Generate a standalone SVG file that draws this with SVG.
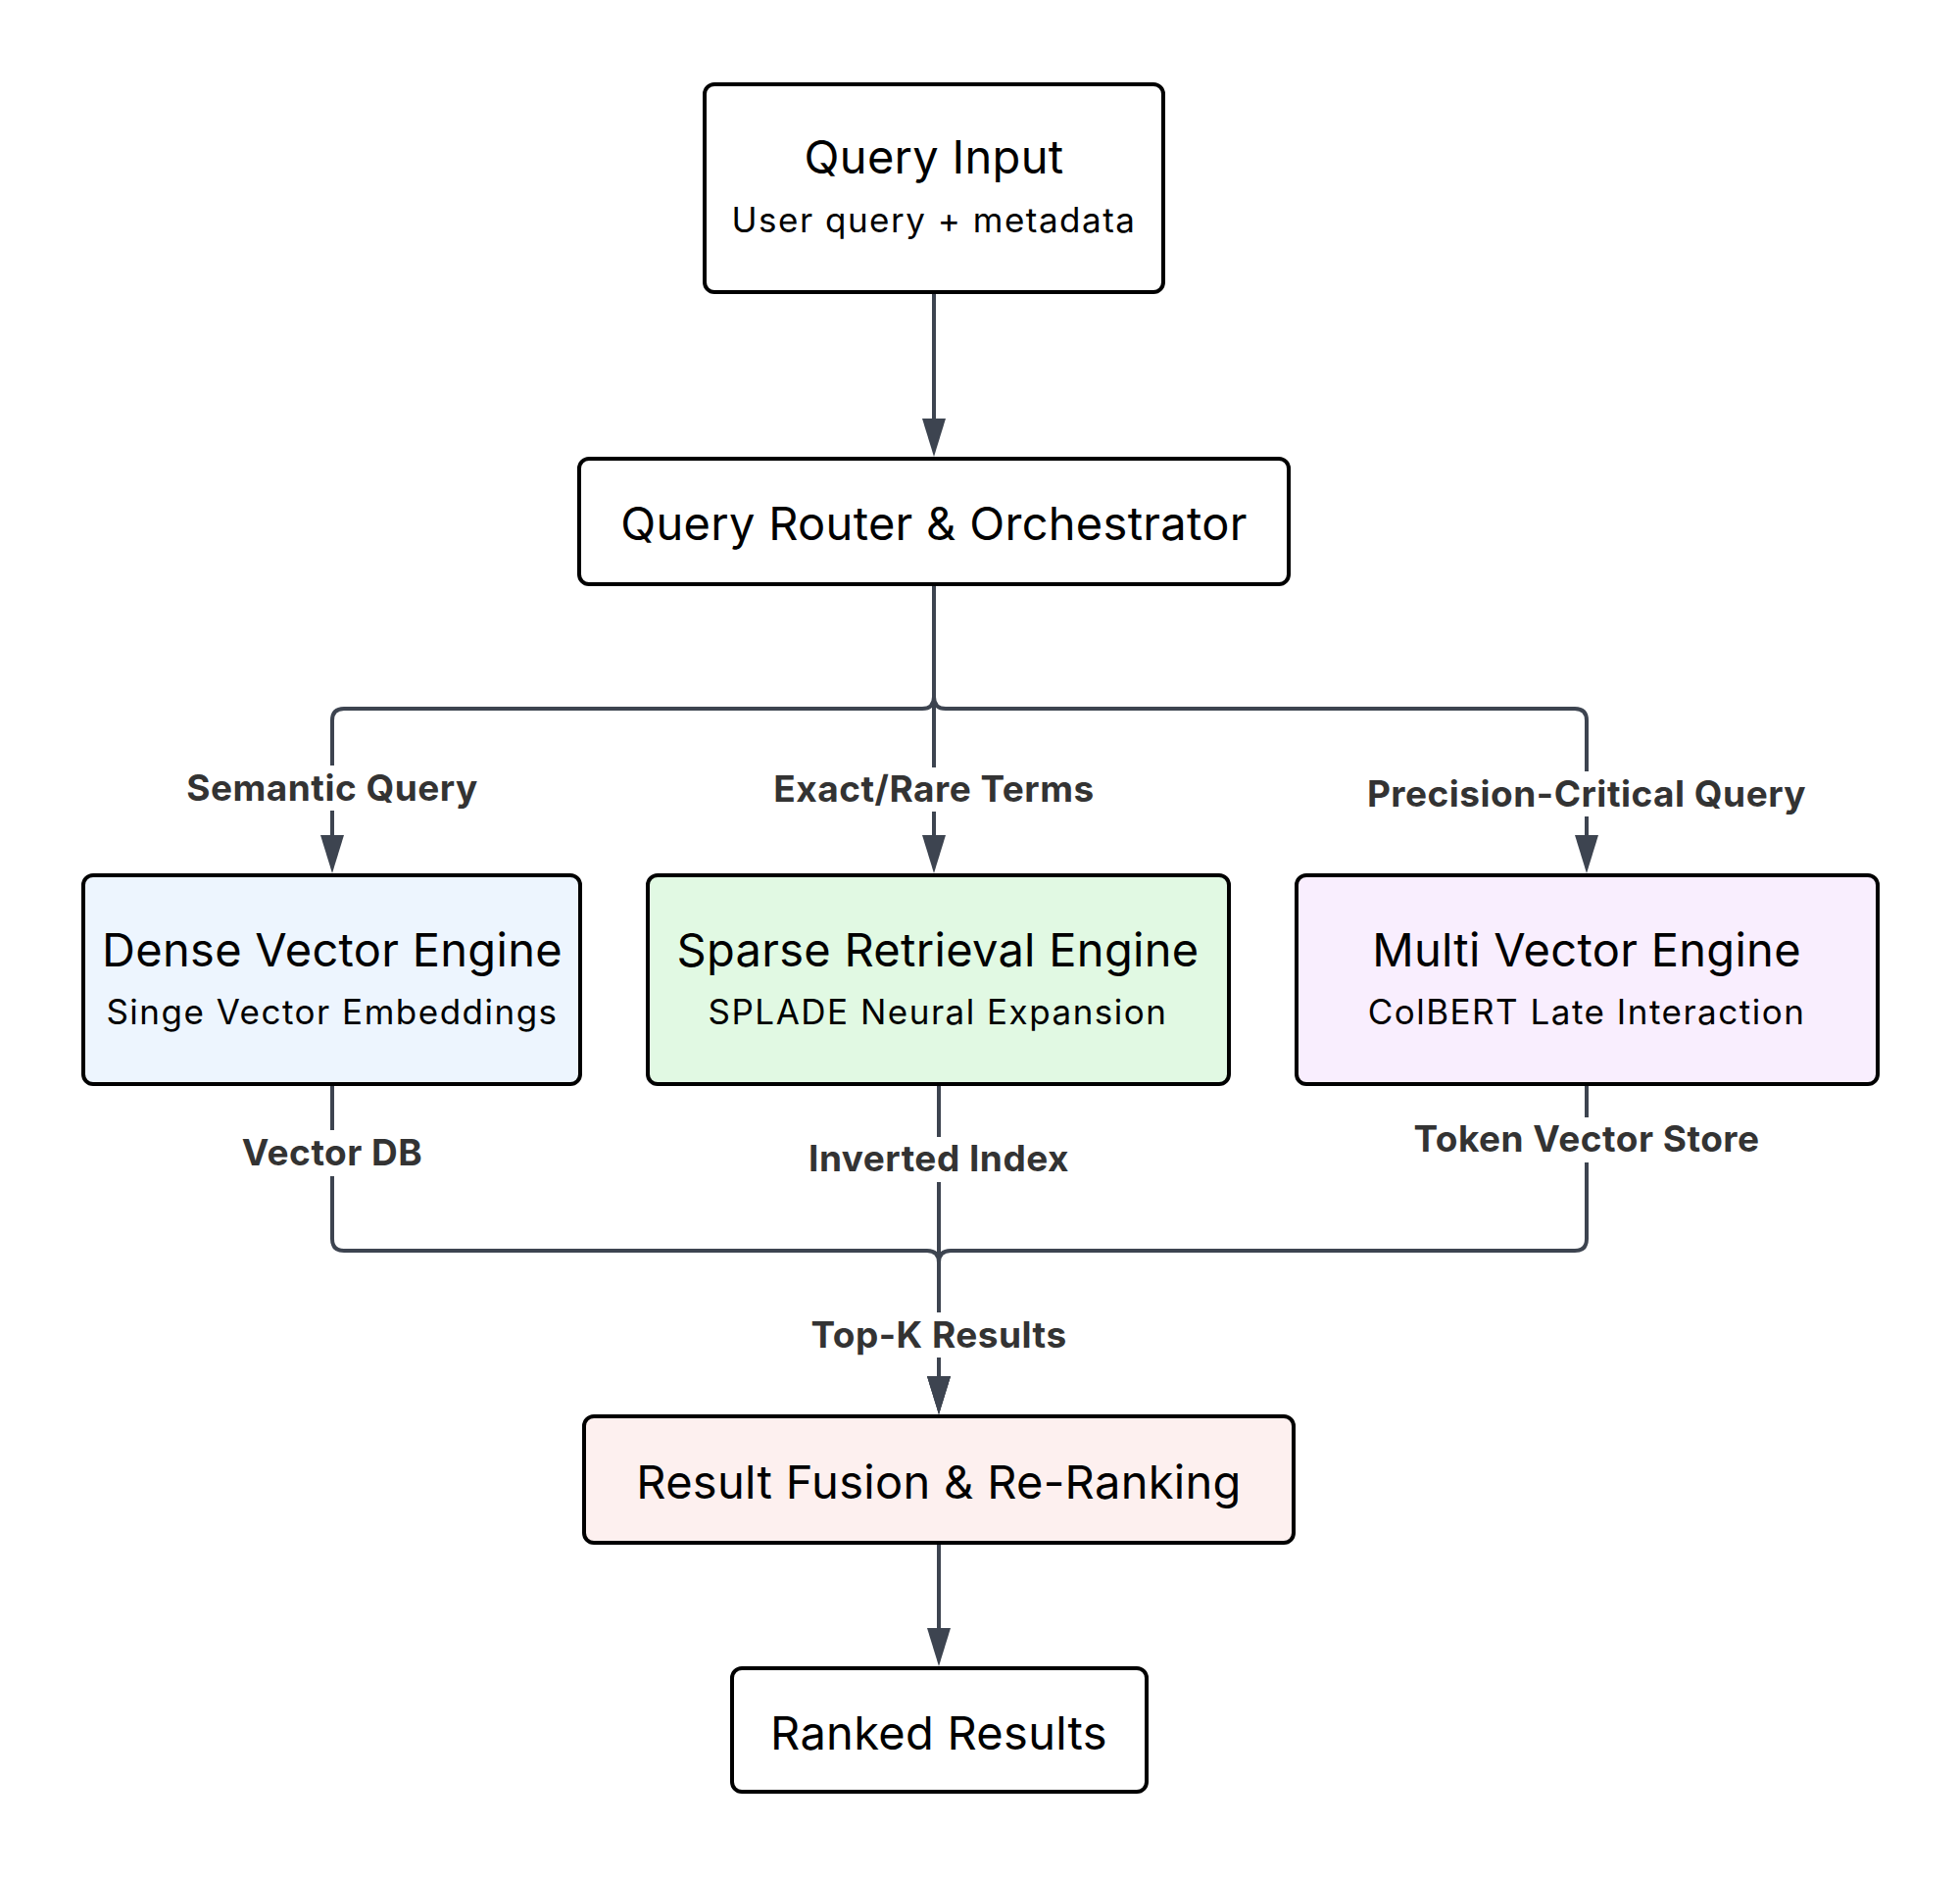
<svg xmlns="http://www.w3.org/2000/svg" width="2000" height="1915" viewBox="0 0 2000 1915">
<style>
.box{stroke:#000;stroke-width:4}
.t{font-family:Inter,"Noto Sans","Liberation Sans",sans-serif;fill:#000;text-anchor:middle}
.title{font-size:47px;letter-spacing:0.3px}
.sub{font-size:35px;letter-spacing:1.5px}
.lbl{font-family:Inter,"Noto Sans","Liberation Sans",sans-serif;font-weight:700;font-size:37px;letter-spacing:0.5px;fill:#333;text-anchor:middle}
.edge{fill:none;stroke:#3d4450;stroke-width:4}
.arr{marker-end:url(#ah)}
.lblbg{fill:#fff}
</style>
<defs>
<marker id="ah" viewBox="0 0 39 24" markerWidth="39" markerHeight="24" markerUnits="userSpaceOnUse" refX="9" refY="12" orient="auto">
<path d="M0,0 L39,12 L0,24 z" fill="#3d4450"/>
</marker>
</defs>
<rect width="2000" height="1915" fill="#fff"/>
<g id="connectors">
<path class="edge arr" d="M953,298 L953,436"/>
<path class="edge arr" d="M953,596 L953,711 Q953,723 941,723 L351,723 Q339,723 339,735 L339,861"/>
<path class="edge arr" d="M953,596 L953,861"/>
<path class="edge arr" d="M953,596 L953,711 Q953,723 965,723 L1607,723 Q1619,723 1619,735 L1619,861"/>
<path class="edge arr" d="M339,1107 L339,1264 Q339,1276 351,1276 L946,1276 Q958,1276 958,1288 L958,1413"/>
<path class="edge arr" d="M958,1107 L958,1413"/>
<path class="edge arr" d="M1619,1107 L1619,1264 Q1619,1276 1607,1276 L970,1276 Q958,1276 958,1288 L958,1413"/>
<path class="edge arr" d="M958,1574 L958,1670"/>
<g id="edge-labels">
<rect class="lblbg" x="185" y="781" width="308" height="46"/>
<text class="lbl" x="339" y="817">Semantic Query</text>
<rect class="lblbg" x="790" y="783" width="326" height="45"/>
<text class="lbl" x="953" y="818">Exact/Rare Terms</text>
<rect class="lblbg" x="1396" y="787" width="446" height="46"/>
<text class="lbl" x="1619" y="823">Precision-Critical Query</text>
<rect class="lblbg" x="246" y="1153" width="186" height="47"/>
<text class="lbl" x="339" y="1189">Vector DB</text>
<rect class="lblbg" x="825" y="1160" width="266" height="46"/>
<text class="lbl" x="958" y="1195">Inverted Index</text>
<rect class="lblbg" x="1444" y="1140" width="350" height="46"/>
<text class="lbl" x="1619" y="1175">Token Vector Store</text>
<rect class="lblbg" x="827" y="1339" width="262" height="46"/>
<text class="lbl" x="958" y="1375">Top-K Results</text>
</g>
</g>
<g id="query-input">
<rect class="box" x="719" y="86" width="468" height="212" rx="10" fill="#fff"/>
<text class="t title" x="953" y="177">Query Input</text>
<text class="t sub" x="953" y="237">User query + metadata</text>
</g>
<g id="query-router">
<rect class="box" x="591" y="468" width="724" height="128" rx="10" fill="#fff"/>
<text class="t title" x="953" y="551">Query Router &amp; Orchestrator</text>
</g>
<g id="dense-engine">
<rect class="box" x="85" y="893" width="507" height="213" rx="10" fill="#edf5fe"/>
<text class="t title" x="339" y="986">Dense Vector Engine</text>
<text class="t sub" x="339" y="1045">Singe Vector Embeddings</text>
</g>
<g id="sparse-engine">
<rect class="box" x="661" y="893" width="593" height="213" rx="10" fill="#e1f9e3"/>
<text class="t title" x="957" y="986">Sparse Retrieval Engine</text>
<text class="t sub" x="957" y="1045">SPLADE Neural Expansion</text>
</g>
<g id="multi-engine">
<rect class="box" x="1323" y="893" width="593" height="213" rx="10" fill="#f9eefe"/>
<text class="t title" x="1619" y="986">Multi Vector Engine</text>
<text class="t sub" x="1619" y="1045">ColBERT Late Interaction</text>
</g>
<g id="result-fusion">
<rect class="box" x="596" y="1445" width="724" height="129" rx="10" fill="#fdf0ef"/>
<text class="t title" x="958" y="1529">Result Fusion &amp; Re-Ranking</text>
</g>
<g id="ranked-results">
<rect class="box" x="747" y="1702" width="423" height="126" rx="10" fill="#fff"/>
<text class="t title" x="958" y="1785">Ranked Results</text>
</g>
</svg>
